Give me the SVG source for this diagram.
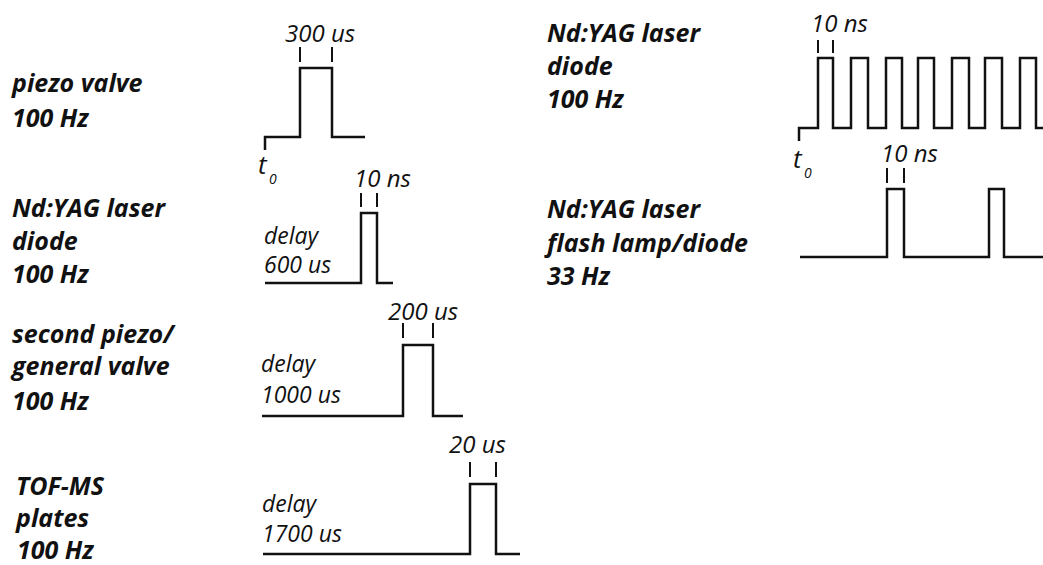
<svg xmlns="http://www.w3.org/2000/svg" width="1043" height="565" viewBox="0 0 1043 565">
<style>
.lbl{font-family:"Open Sans","Liberation Sans",sans-serif;font-weight:700;font-style:italic;font-size:25px;fill:#111}
.t{font-family:"Open Sans","Liberation Sans",sans-serif;font-style:italic;font-size:24px;fill:#111}
.d{font-family:"Open Sans","Liberation Sans",sans-serif;font-style:italic;font-size:23px;fill:#111}
.t0{font-family:"Open Sans","Liberation Sans",sans-serif;font-style:italic;font-size:26px;fill:#111}
.sub{font-family:"Open Sans","Liberation Sans",sans-serif;font-style:italic;font-size:14px;fill:#111}
.w{fill:none;stroke:#111;stroke-width:2.5;stroke-linejoin:miter;stroke-linecap:butt}
.tick{stroke:#111;stroke-width:2}
</style>
<rect width="1043" height="565" fill="#fff"/>
<g id="piezo-valve">
<text class="lbl" x="12" y="92">piezo valve</text>
<text class="lbl" x="12" y="127">100 Hz</text>
<path class="w" d="M265,150 V137 H300 V68 H332 V137 H365"/>
<line class="tick" x1="300" y1="47" x2="300" y2="62"/>
<line class="tick" x1="332" y1="47" x2="332" y2="62"/>
<text class="t" x="285" y="42">300 us</text>
<text class="t0" x="258" y="174">t</text>
<text class="sub" x="269" y="184">0</text>
</g>
<g id="ndyag-diode-left">
<text class="lbl" x="12" y="217">Nd:YAG laser</text>
<text class="lbl" x="12" y="250">diode</text>
<text class="lbl" x="12" y="283">100 Hz</text>
<path class="w" d="M265,283 H361 V213 H377 V283 H393"/>
<line class="tick" x1="361" y1="193" x2="361" y2="207"/>
<line class="tick" x1="377" y1="193" x2="377" y2="207"/>
<text class="t" x="354" y="187">10 ns</text>
<text class="d" x="264" y="244">delay</text>
<text class="d" x="264" y="273">600 us</text>
</g>
<g id="second-piezo">
<text class="lbl" x="12" y="343">second piezo/</text>
<text class="lbl" x="12" y="375">general valve</text>
<text class="lbl" x="12" y="410">100 Hz</text>
<path class="w" d="M262,416 H403 V345 H433 V416 H463"/>
<line class="tick" x1="403" y1="323" x2="403" y2="338"/>
<line class="tick" x1="433" y1="323" x2="433" y2="338"/>
<text class="t" x="388" y="320">200 us</text>
<text class="d" x="261" y="372">delay</text>
<text class="d" x="261" y="403">1000 us</text>
</g>
<g id="tof-ms">
<text class="lbl" x="16" y="495">TOF-MS</text>
<text class="lbl" x="16" y="527">plates</text>
<text class="lbl" x="17" y="559">100 Hz</text>
<path class="w" d="M263,554 H470 V484 H496 V554 H520"/>
<line class="tick" x1="470" y1="462" x2="470" y2="477"/>
<line class="tick" x1="496" y1="462" x2="496" y2="477"/>
<text class="t" x="449" y="453">20 us</text>
<text class="d" x="262" y="512">delay</text>
<text class="d" x="262" y="542">1700 us</text>
</g>
<g id="ndyag-diode-right">
<text class="lbl" x="547" y="42">Nd:YAG laser</text>
<text class="lbl" x="547" y="75">diode</text>
<text class="lbl" x="547" y="108">100 Hz</text>
<path class="w" d="M799,141 V128 H818 V58 H833 V128 H851 V58 H868 V128 H886 V58 H902 V128 H918 V58 H934 V128 H952 V58 H969 V128 H985 V58 H1002 V128 H1020 V58 H1036 V128 H1043"/>
<line class="tick" x1="818" y1="40" x2="818" y2="53"/>
<line class="tick" x1="833" y1="40" x2="833" y2="53"/>
<text class="t" x="811" y="32">10 ns</text>
<text class="t0" x="793" y="168">t</text>
<text class="sub" x="804" y="178">0</text>
</g>
<g id="ndyag-flash">
<text class="lbl" x="547" y="218">Nd:YAG laser</text>
<text class="lbl" x="547" y="252">flash lamp/diode</text>
<text class="lbl" x="547" y="285">33 Hz</text>
<path class="w" d="M800,257 H887 V189 H904 V257 H989 V189 H1004 V257 H1043"/>
<line class="tick" x1="887" y1="168" x2="887" y2="183"/>
<line class="tick" x1="904" y1="168" x2="904" y2="183"/>
<text class="t" x="881" y="162">10 ns</text>
</g>
<g id="connectors"/>
</svg>
